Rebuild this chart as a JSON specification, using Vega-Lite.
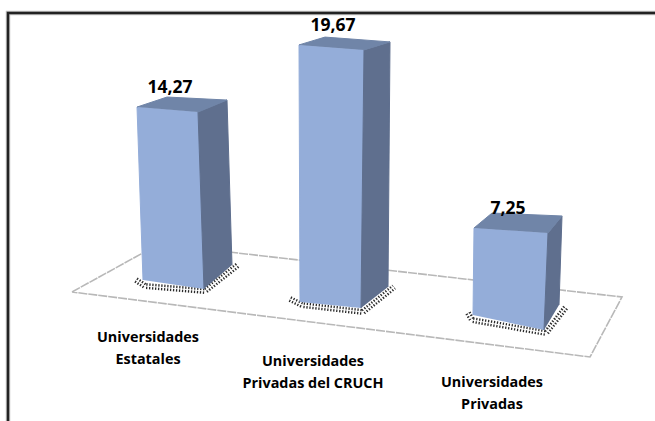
{"$schema":"https://vega.github.io/schema/vega-lite/v6.json","width":655,"height":421,"padding":0,"autosize":{"type":"none"},"background":"white","config":{"view":{"stroke":null}},
"datasets":{
"barras":[
{"categoria":"Universidades Estatales","valor":14.27,"rotulo":"Universidades\nEstatales","xRotulo":148,"elevRotulo":337,"xValor":170,"baseValor":147.5},
{"categoria":"Universidades Privadas del CRUCH","valor":19.67,"rotulo":"Universidades\nPrivadas del CRUCH","xRotulo":313,"elevRotulo":361,"xValor":333,"baseValor":139.3},
{"categoria":"Universidades Privadas","valor":7.25,"rotulo":"Universidades\nPrivadas","xRotulo":492,"elevRotulo":382,"xValor":508,"baseValor":117.75}],
"caras":[
{"categoria":"Universidades Estatales","cara":"frente","orden":1,"x":143,"suelo":141,"k":0},
{"categoria":"Universidades Estatales","cara":"frente","orden":2,"x":137,"suelo":141,"k":12.12},
{"categoria":"Universidades Estatales","cara":"frente","orden":3,"x":198,"suelo":132,"k":12.4},
{"categoria":"Universidades Estatales","cara":"frente","orden":4,"x":204,"suelo":132,"k":0},
{"categoria":"Universidades Estatales","cara":"lado","orden":1,"x":204,"suelo":132,"k":0},
{"categoria":"Universidades Estatales","cara":"lado","orden":2,"x":198,"suelo":132,"k":12.4},
{"categoria":"Universidades Estatales","cara":"lado","orden":3,"x":227,"suelo":156,"k":11.56},
{"categoria":"Universidades Estatales","cara":"lado","orden":4,"x":232,"suelo":156,"k":0},
{"categoria":"Universidades Estatales","cara":"techo","orden":1,"x":137,"suelo":141,"k":12.12},
{"categoria":"Universidades Estatales","cara":"techo","orden":2,"x":167,"suelo":163,"k":11.28},
{"categoria":"Universidades Estatales","cara":"techo","orden":3,"x":227,"suelo":156,"k":11.56},
{"categoria":"Universidades Estatales","cara":"techo","orden":4,"x":198,"suelo":132,"k":12.4},
{"categoria":"Universidades Privadas del CRUCH","cara":"frente","orden":1,"x":300,"suelo":119,"k":0},
{"categoria":"Universidades Privadas del CRUCH","cara":"frente","orden":2,"x":299,"suelo":119,"k":13.07},
{"categoria":"Universidades Privadas del CRUCH","cara":"frente","orden":3,"x":364,"suelo":113,"k":13.12},
{"categoria":"Universidades Privadas del CRUCH","cara":"frente","orden":4,"x":361,"suelo":113,"k":0},
{"categoria":"Universidades Privadas del CRUCH","cara":"lado","orden":1,"x":361,"suelo":113,"k":0},
{"categoria":"Universidades Privadas del CRUCH","cara":"lado","orden":2,"x":364,"suelo":113,"k":13.12},
{"categoria":"Universidades Privadas del CRUCH","cara":"lado","orden":3,"x":390,"suelo":134,"k":12.46},
{"categoria":"Universidades Privadas del CRUCH","cara":"lado","orden":4,"x":388,"suelo":134,"k":0},
{"categoria":"Universidades Privadas del CRUCH","cara":"techo","orden":1,"x":299,"suelo":119,"k":13.07},
{"categoria":"Universidades Privadas del CRUCH","cara":"techo","orden":2,"x":325,"suelo":140,"k":12.4},
{"categoria":"Universidades Privadas del CRUCH","cara":"techo","orden":3,"x":390,"suelo":134,"k":12.46},
{"categoria":"Universidades Privadas del CRUCH","cara":"techo","orden":4,"x":364,"suelo":113,"k":13.12},
{"categoria":"Universidades Privadas","cara":"frente","orden":1,"x":473,"suelo":106,"k":0},
{"categoria":"Universidades Privadas","cara":"frente","orden":2,"x":474,"suelo":106,"k":12},
{"categoria":"Universidades Privadas","cara":"frente","orden":3,"x":548,"suelo":91,"k":13.38},
{"categoria":"Universidades Privadas","cara":"frente","orden":4,"x":544,"suelo":91,"k":0},
{"categoria":"Universidades Privadas","cara":"lado","orden":1,"x":544,"suelo":91,"k":0},
{"categoria":"Universidades Privadas","cara":"lado","orden":2,"x":548,"suelo":91,"k":13.38},
{"categoria":"Universidades Privadas","cara":"lado","orden":3,"x":562,"suelo":116,"k":12.28},
{"categoria":"Universidades Privadas","cara":"lado","orden":4,"x":559,"suelo":116,"k":0},
{"categoria":"Universidades Privadas","cara":"techo","orden":1,"x":474,"suelo":106,"k":12},
{"categoria":"Universidades Privadas","cara":"techo","orden":2,"x":492,"suelo":123,"k":11.72},
{"categoria":"Universidades Privadas","cara":"techo","orden":3,"x":562,"suelo":116,"k":12.28},
{"categoria":"Universidades Privadas","cara":"techo","orden":4,"x":548,"suelo":91,"k":13.38}],
"plano":[
{"orden":1,"x":72,"elev":129},{"orden":2,"x":159,"elev":177},{"orden":3,"x":622,"elev":124},{"orden":4,"x":590,"elev":64},{"orden":5,"x":72,"elev":129}],
"sombras":[
{"tramo":"1a","orden":1,"x":136,"elev":141},{"tramo":"1a","orden":2,"x":145,"elev":135},{"tramo":"1a","orden":3,"x":205,"elev":130},{"tramo":"1a","orden":4,"x":238,"elev":156},
{"tramo":"2a","orden":1,"x":290,"elev":122},{"tramo":"2a","orden":2,"x":302,"elev":116},{"tramo":"2a","orden":3,"x":363,"elev":109},{"tramo":"2a","orden":4,"x":394,"elev":134},
{"tramo":"3a","orden":1,"x":468,"elev":108},{"tramo":"3a","orden":2,"x":472,"elev":101},{"tramo":"3a","orden":3,"x":546,"elev":88},{"tramo":"3a","orden":4,"x":566,"elev":114}],
"marco":[{"orden":1,"x":8,"elev":0},{"orden":2,"x":8,"elev":408},{"orden":3,"x":655,"elev":408}]},
"layer":[
{"data":{"name":"marco"},"mark":{"type":"line","stroke":"#c4c4c4","strokeWidth":4.5},"encoding":{"x":{"field":"x","type":"quantitative","scale":{"domain":[0,655],"nice":false,"zero":false},"axis":null},"y":{"field":"elev","type":"quantitative","scale":{"domain":[0,421],"nice":false,"zero":false},"axis":null},"order":{"field":"orden"}}},
{"data":{"name":"marco"},"mark":{"type":"line","stroke":"#222222","strokeWidth":2.5},"encoding":{"x":{"field":"x","type":"quantitative","axis":null},"y":{"field":"elev","type":"quantitative","axis":null},"order":{"field":"orden"}}},
{"data":{"name":"plano"},"mark":{"type":"line","stroke":"#b8b8b8","strokeWidth":1.6,"strokeDash":[9,1]},"encoding":{"x":{"field":"x","type":"quantitative","axis":null},"y":{"field":"elev","type":"quantitative","axis":null},"order":{"field":"orden"}}},
{"data":{"name":"sombras"},"mark":{"type":"line","stroke":"#2a2a2a","strokeWidth":6,"strokeDash":[1.3,1.7]},"encoding":{"x":{"field":"x","type":"quantitative","axis":null},"y":{"field":"elev","type":"quantitative","axis":null},"detail":{"field":"tramo"},"order":{"field":"orden"}}},
{"data":{"name":"sombras"},"mark":{"type":"line","stroke":"#ffffff","strokeWidth":1.2},"encoding":{"x":{"field":"x","type":"quantitative","axis":null},"y":{"field":"elev","type":"quantitative","axis":null},"detail":{"field":"tramo"},"order":{"field":"orden"}}},
{"data":{"name":"caras"},"transform":[{"filter":"datum.cara==='frente'"},{"lookup":"categoria","from":{"data":{"name":"barras"},"key":"categoria","fields":["valor"]}},{"calculate":"datum.suelo+datum.valor*datum.k","as":"elev"}],"mark":{"type":"line","fill":"#94add9","stroke":"#94add9","strokeWidth":1},"encoding":{"x":{"field":"x","type":"quantitative","axis":null},"y":{"field":"elev","type":"quantitative","axis":null},"detail":{"field":"categoria"},"order":{"field":"orden"}}},
{"data":{"name":"caras"},"transform":[{"filter":"datum.cara==='lado'"},{"lookup":"categoria","from":{"data":{"name":"barras"},"key":"categoria","fields":["valor"]}},{"calculate":"datum.suelo+datum.valor*datum.k","as":"elev"}],"mark":{"type":"line","fill":"#5f6f8e","stroke":"#5f6f8e","strokeWidth":1},"encoding":{"x":{"field":"x","type":"quantitative","axis":null},"y":{"field":"elev","type":"quantitative","axis":null},"detail":{"field":"categoria"},"order":{"field":"orden"}}},
{"data":{"name":"caras"},"transform":[{"filter":"datum.cara==='techo'"},{"lookup":"categoria","from":{"data":{"name":"barras"},"key":"categoria","fields":["valor"]}},{"calculate":"datum.suelo+datum.valor*datum.k","as":"elev"}],"mark":{"type":"line","fill":"#7085a8","stroke":"#7085a8","strokeWidth":1},"encoding":{"x":{"field":"x","type":"quantitative","axis":null},"y":{"field":"elev","type":"quantitative","axis":null},"detail":{"field":"categoria"},"order":{"field":"orden"}}},
{"data":{"name":"barras"},"mark":{"type":"text","font":"Open Sans","fontWeight":"bold","fontSize":14.4,"lineBreak":"\n","lineHeight":22,"baseline":"top","align":"center","dy":-6,"color":"#000000"},"encoding":{"x":{"field":"xRotulo","type":"quantitative","axis":null},"y":{"field":"yR","type":"quantitative","axis":null},"text":{"field":"rotulo"}},"transform":[{"calculate":"421-datum.elevRotulo","as":"yR"}]},
{"data":{"name":"barras"},"transform":[{"calculate":"datum.baseValor+13*datum.valor","as":"elevValor"},{"calculate":"replace(format(datum.valor,'.2f'),'.',',')","as":"textoValor"}],"mark":{"type":"text","font":"Open Sans","fontWeight":"bold","fontSize":17.5,"baseline":"middle","align":"center","color":"#000000"},"encoding":{"x":{"field":"xValor","type":"quantitative","axis":null},"y":{"field":"elevValor","type":"quantitative","axis":null},"text":{"field":"textoValor"}}}
]}
